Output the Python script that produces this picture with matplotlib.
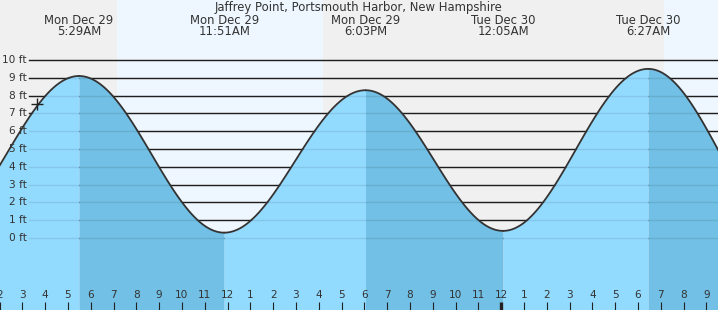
import matplotlib
matplotlib.use("Agg")
import matplotlib.pyplot as plt
import matplotlib.transforms as mtransforms
import numpy as np

# tide extremes, hours from midnight Mon Dec 29 (first/last are off-chart)
ext_hours = [-0.8, 5.483, 11.85, 18.05, 24.083, 30.45, 36.75]
ext_feet = [0.5, 9.1, 0.3, 8.3, 0.4, 9.5, 0.0]
ext_days = ["", "Mon Dec 29", "Mon Dec 29", "Mon Dec 29", "Tue Dec 30", "Tue Dec 30", ""]
ext_times = ["", "5:29AM", "11:51AM", "6:03PM", "12:05AM", "6:27AM", ""]

# daylight spans (sunrise, sunset) in hours
day_spans = [(7.13, 16.2), (31.12, 40.0)]

title = "Jaffrey Point, Portsmouth Harbor, New Hampshire"
now_hour = 3.65
now_feet = 7.55
y_levels = list(range(0, 11))
hour_ticks = list(range(2, 34))

W, H = 718, 310
x0, x1 = 2.018, 33.51
y0, y1 = -4.045, 13.37

night_col = "#f0f0f0"
day_col = "#eef7ff"
rise_col = "#92dbff"
fall_col = "#72c0e6"
txt_col = "#333333"
fs = 7.6      # axis labels
fs_head = 8.4 # header texts

fig = plt.figure(figsize=(W / 100, H / 100), dpi=100)
ax = fig.add_axes([0, 0, 1, 1])
ax.set_xlim(x0, x1)
ax.set_ylim(y0, y1)
ax.axis("off")

# background night / day
ax.axvspan(x0 - 1, x1 + 1, color=night_col, zorder=0, lw=0)
for a, b in day_spans:
    ax.axvspan(a, b, color=day_col, zorder=0, lw=0)

# gridlines (black, under the water)
for lv in y_levels:
    ax.axhline(lv, xmin=29 / W, xmax=1, color="#222222", lw=1.0, zorder=1)

# tide curve: half-cosine between consecutive extremes
for i in range(len(ext_hours) - 1):
    ta, tb = ext_hours[i], ext_hours[i + 1]
    ha, hb = ext_feet[i], ext_feet[i + 1]
    t = np.linspace(ta, tb, 120)
    h = ha + (hb - ha) * (1 - np.cos(np.pi * (t - ta) / (tb - ta))) / 2
    col = fall_col if ha > hb else rise_col
    ax.fill_between(t, y0 - 1, h, color=col, lw=0, zorder=2)
    ax.plot(t, h, color="#333333", lw=1.3, zorder=4, solid_capstyle="round")

# faint gridlines visible through the water
for lv in y_levels:
    ax.axhline(lv, xmin=29 / W, xmax=1, color=(0, 0, 0, 0.09), lw=1.0, zorder=3)

# current-time marker
ax.plot([now_hour], [now_feet], marker="+", ms=9, mew=1.0, color="#222222", zorder=5)

# y labels
ytr = mtransforms.blended_transform_factory(ax.transAxes, ax.transData)
for lv in y_levels:
    ax.text(27 / W, lv, f"{lv} ft", ha="right", va="center", fontsize=fs,
            color=txt_col, transform=ytr, zorder=6)

# header
xtr = mtransforms.blended_transform_factory(ax.transData, ax.transAxes)
ax.text(0.5, 1 - 7 / H, title, ha="center", va="center", fontsize=fs_head,
        color=txt_col, transform=ax.transAxes, zorder=6)
for t, d, s in zip(ext_hours, ext_days, ext_times):
    if not d:
        continue
    ax.text(t, 1 - 20 / H, d, ha="center", va="center", fontsize=fs_head,
            color=txt_col, transform=xtr, zorder=6)
    ax.text(t, 1 - 31.5 / H, s, ha="center", va="center", fontsize=fs_head,
            color=txt_col, transform=xtr, zorder=6)

# hour ticks along bottom
for hr in hour_ticks:
    lab = str(hr % 12 if hr % 12 else 12)
    thick = 3 if hr % 24 == 0 else 1
    ax.plot([hr, hr], [0, 8 / H], color="#222222", lw=thick * 0.8,
            transform=xtr, zorder=6, solid_capstyle="butt")
    ax.text(hr, (H - 295.5) / H, lab, ha="center", va="center", fontsize=fs,
            color=txt_col, transform=xtr, zorder=6)

fig.savefig("out.png", dpi=100)
